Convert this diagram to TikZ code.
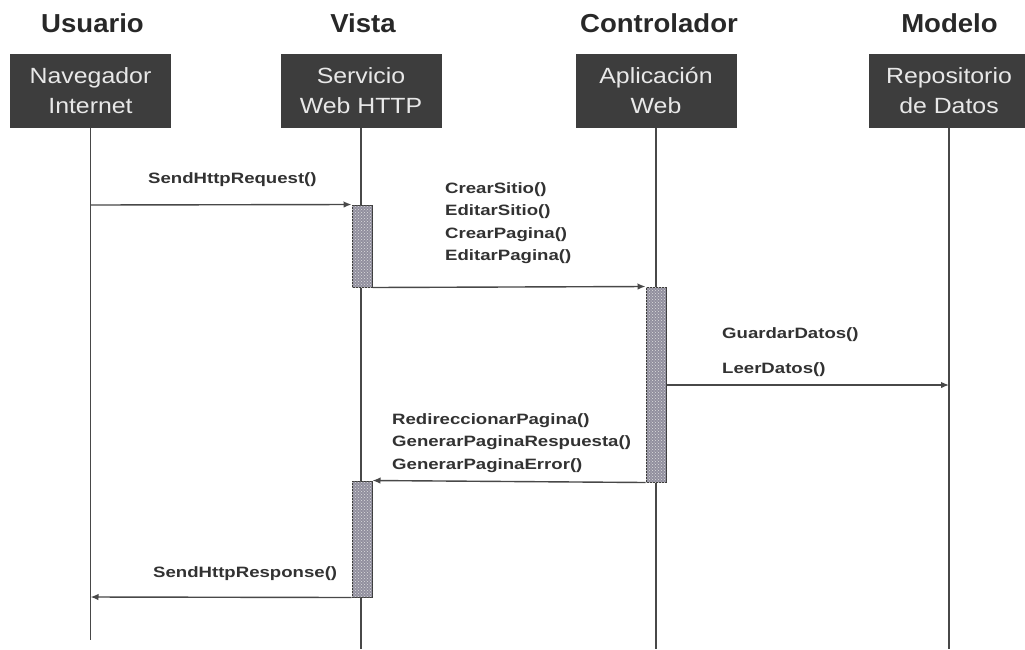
\documentclass[tikz,border=0pt]{standalone}
\usepackage{fontspec}
\usetikzlibrary{arrows.meta,patterns}
\newfontfamily\headfont{Liberation Sans}[FakeStretch=1.06]
\newfontfamily\boxfont{Liberation Sans}[FakeStretch=1.13]
\newfontfamily\msgfont{Liberation Sans}[FakeStretch=1.24]
\definecolor{boxfill}{RGB}{61,61,61}
\definecolor{boxtext}{RGB}{232,232,232}
\definecolor{ink}{RGB}{72,72,72}
\definecolor{headink}{RGB}{40,40,40}
\definecolor{msgink}{RGB}{50,50,50}
\definecolor{barfill}{RGB}{145,143,158}
\begin{document}
\begin{tikzpicture}[x=1pt,y=-1pt,
  header/.style={anchor=base,text=headink,inner sep=0pt,
    font=\headfont\fontsize{26}{30}\selectfont\bfseries},
  actor/.style={fill=boxfill,text=boxtext,minimum width=161pt,minimum height=74pt,
    inner sep=0pt,align=center,font=\boxfont\fontsize{22}{30}\selectfont},
  lifeline/.style={draw=ink,line width=1.2pt},
  activation/.style={draw=ink!80!black,line width=1pt,fill=barfill,
    minimum width=20pt,inner sep=0pt,
    postaction={pattern=crosshatch dots,pattern color=white!75!gray}},
  message/.style={draw=ink,line width=1.4pt,-{Latex[length=8pt,width=6.5pt]}},
  msglabel/.style={anchor=base west,text=msgink,inner sep=0pt,align=left,
    font=\msgfont\fontsize{15}{22.5}\selectfont\bfseries}]
\useasboundingbox[fill=white] (0,0) rectangle (1025,649);

% column headings
\node[header] (hU) at (92.5,32) {Usuario};
\node[header] (hV) at (363,32) {Vista};
\node[header] (hC) at (659,32) {Controlador};
\node[header] (hM) at (949.5,32) {Modelo};

% participants
\node[actor] (nav) at (90.5,90.5) {Navegador\\Internet};
\node[actor] (srv) at (361,90.5) {Servicio\\Web HTTP};
\node[actor] (app) at (656,91) {Aplicación\\Web};
\node[actor] (rep) at (949,91) {Repositorio\\de Datos};

% lifeline ends and message end points
\coordinate (navEnd) at (90.5,640);
\coordinate (srvEnd) at (361,649);
\coordinate (appEnd) at (656,649);
\coordinate (repEnd) at (949,649);
\coordinate (navIn) at (90.5,205);
\coordinate (navOut) at (90.5,597);
\coordinate (repIn) at (949,385);

\draw[lifeline] (nav.south) -- (navEnd);
\draw[lifeline] (srv.south) -- (srvEnd);
\draw[lifeline] (app.south) -- (appEnd);
\draw[lifeline] (rep.south) -- (repEnd);

% activation bars
\node[activation,minimum height=82pt] (act1) at (362,246) {};
\node[activation,minimum height=195pt] (act2) at (656,384.5) {};
\node[activation,minimum height=116pt] (act3) at (362,539) {};

% messages
\draw[message] (navIn) -- (act1.north west);
\draw[message] (act1.south east) -- (act2.north west);
\draw[message] (act2.east |- repIn) -- (repIn);
\draw[message] (act2.south west) -- (act3.north east);
\draw[message] (act3.south west) -- (navOut);

% message labels (multi-line labels are placed by their last baseline)
\node[msglabel] (l1) at (148,183) {SendHttpRequest()};
\node[msglabel] (l2) at (445,260.5) {CrearSitio()\\EditarSitio()\\CrearPagina()\\EditarPagina()};
\node[msglabel] (l3) at (722,338) {GuardarDatos()};
\node[msglabel] (l4) at (722,373) {LeerDatos()};
\node[msglabel] (l5) at (392,469) {RedireccionarPagina()\\GenerarPaginaRespuesta()\\GenerarPaginaError()};
\node[msglabel] (l6) at (153,577) {SendHttpResponse()};
\end{tikzpicture}
\end{document}
